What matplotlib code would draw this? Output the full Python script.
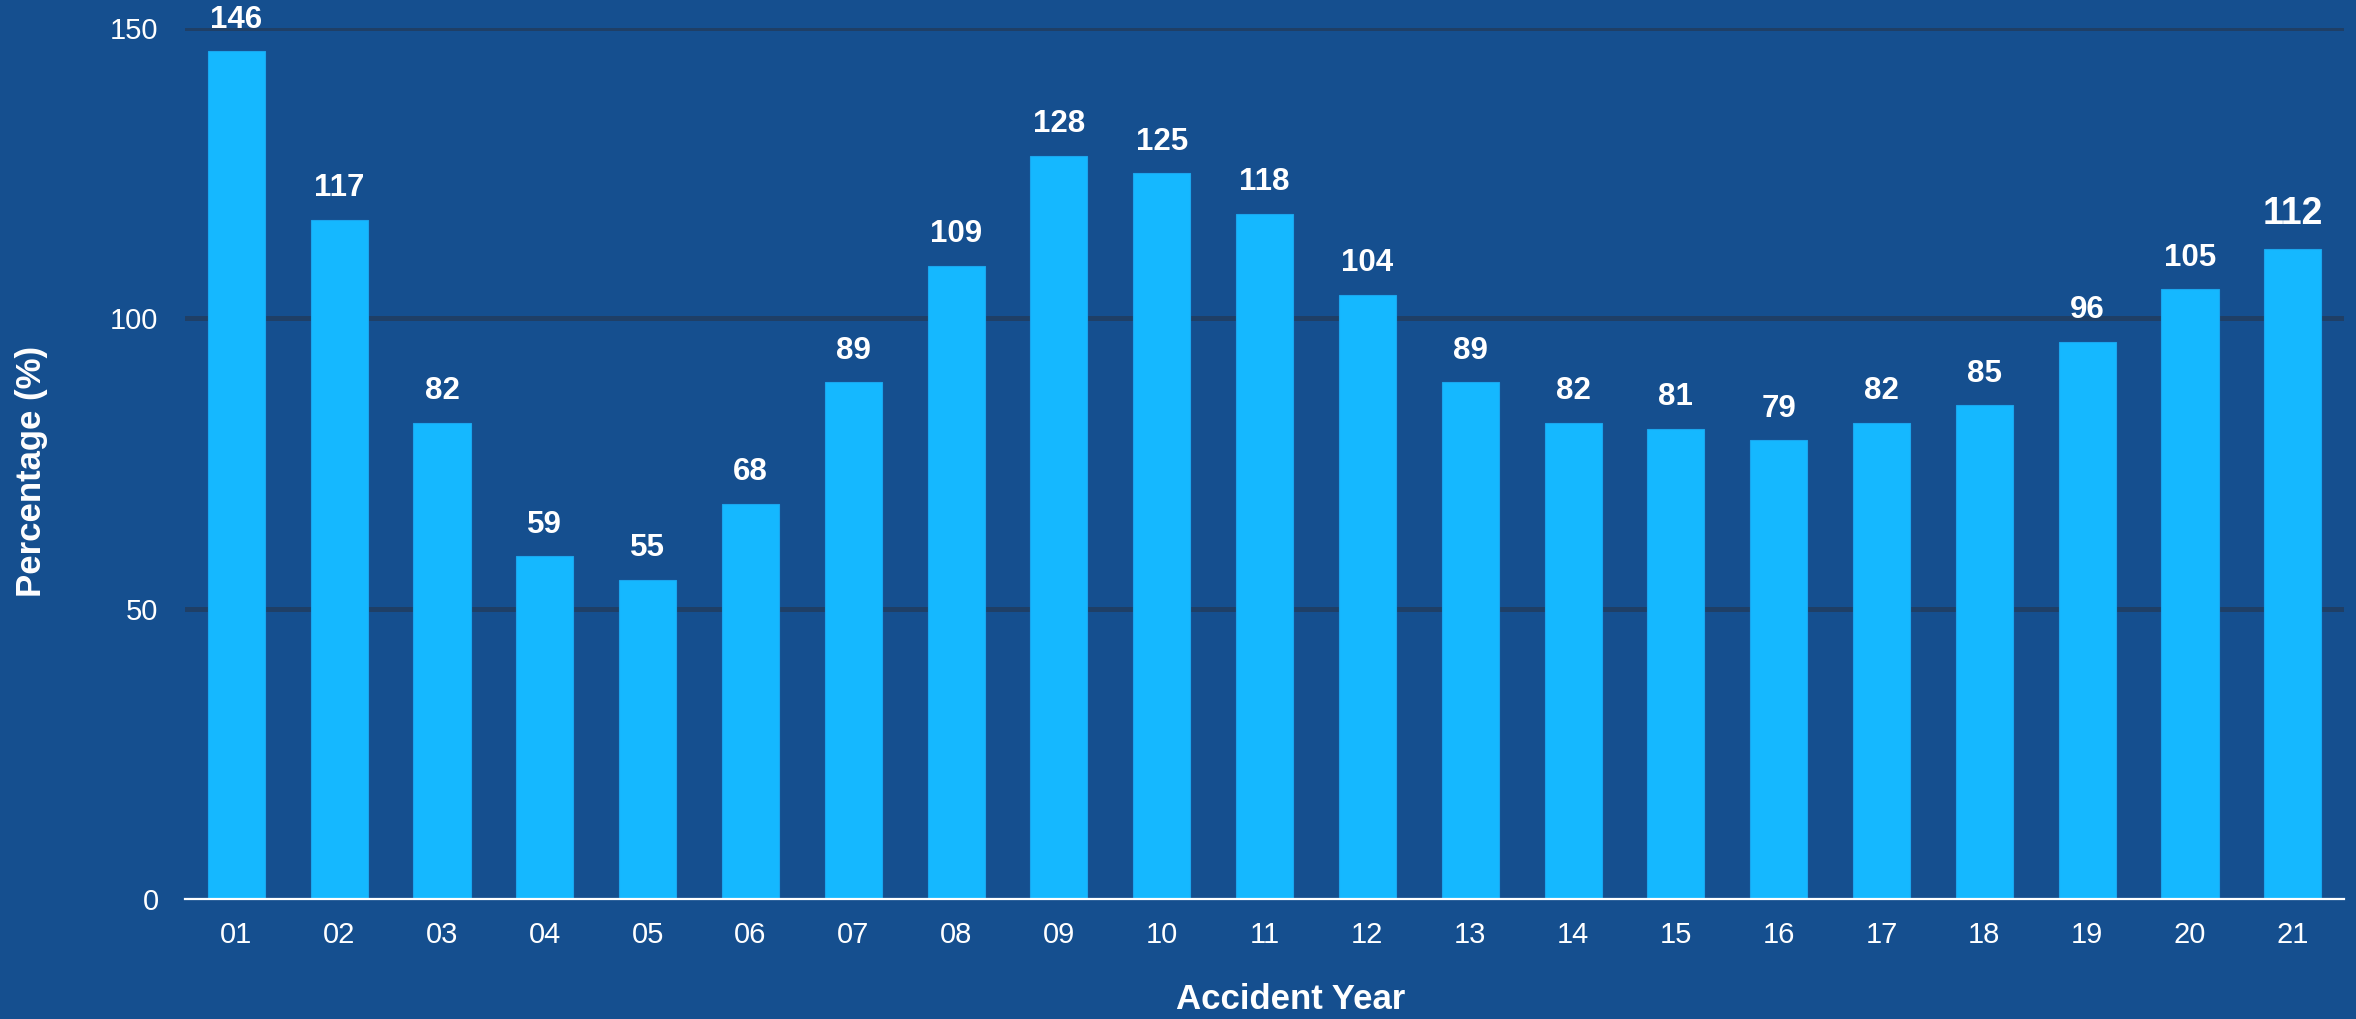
import numpy as np
import matplotlib.pyplot as plt

plt.rcParams["font.family"] = ["Liberation Sans", "DejaVu Sans"]

# loss ratio by accident year
years = ["01", "02", "03", "04", "05", "06", "07", "08", "09", "10", "11",
         "12", "13", "14", "15", "16", "17", "18", "19", "20", "21"]
values = [146, 117, 82, 59, 55, 68, 89, 109, 128, 125, 118,
          104, 89, 82, 81, 79, 82, 85, 96, 105, 112]
y_ticks = [0, 50, 100, 150]

BG = "#154f8f"
BAR = "#15b8ff"
GRID = "#1f3f66"

fig = plt.figure(figsize=(23.56, 10.19), dpi=100, facecolor=BG)
ax = fig.add_axes([0.0785, 0.1178, 0.9165, 0.8547], facecolor=BG)

x = np.arange(len(years))
ax.bar(x, values, width=0.555, color=BAR, edgecolor="#1aa6ee", linewidth=0.8, zorder=2)

for xi, v in zip(x, values):
    last = xi == len(values) - 1
    ax.annotate(str(v), (xi, v), xytext=(0, 12), textcoords="offset points",
                ha="center", va="bottom", color="white", fontweight="bold",
                fontsize=27 if last else 22.5, zorder=4)

ax.set_xlim(-0.5, len(years) - 0.5)
ax.set_ylim(0, 150)
ax.set_xticks(x)
ax.set_xticklabels(years)
ax.set_yticks(y_ticks)

for t in y_ticks[1:]:
    ax.axhline(t, color=GRID, linewidth=3.6, zorder=1)

for side in ["top", "right", "left"]:
    ax.spines[side].set_visible(False)
ax.spines["bottom"].set_color("white")
ax.spines["bottom"].set_linewidth(1.6)
ax.spines["bottom"].set_zorder(3)

ax.tick_params(axis="both", length=0, colors="white", labelsize=21)
ax.tick_params(axis="x", pad=16)
ax.tick_params(axis="y", pad=19)

ax.set_xlabel("Accident Year", color="white", fontsize=25, fontweight="bold", va="center")
ax.xaxis.set_label_coords(0.512, -0.116)
ax.set_ylabel("Percentage (%)", color="white", fontsize=25, fontweight="bold", va="center")
ax.yaxis.set_label_coords(-0.0709, 0.491)

fig.savefig("out.png", dpi=100, facecolor=BG)
